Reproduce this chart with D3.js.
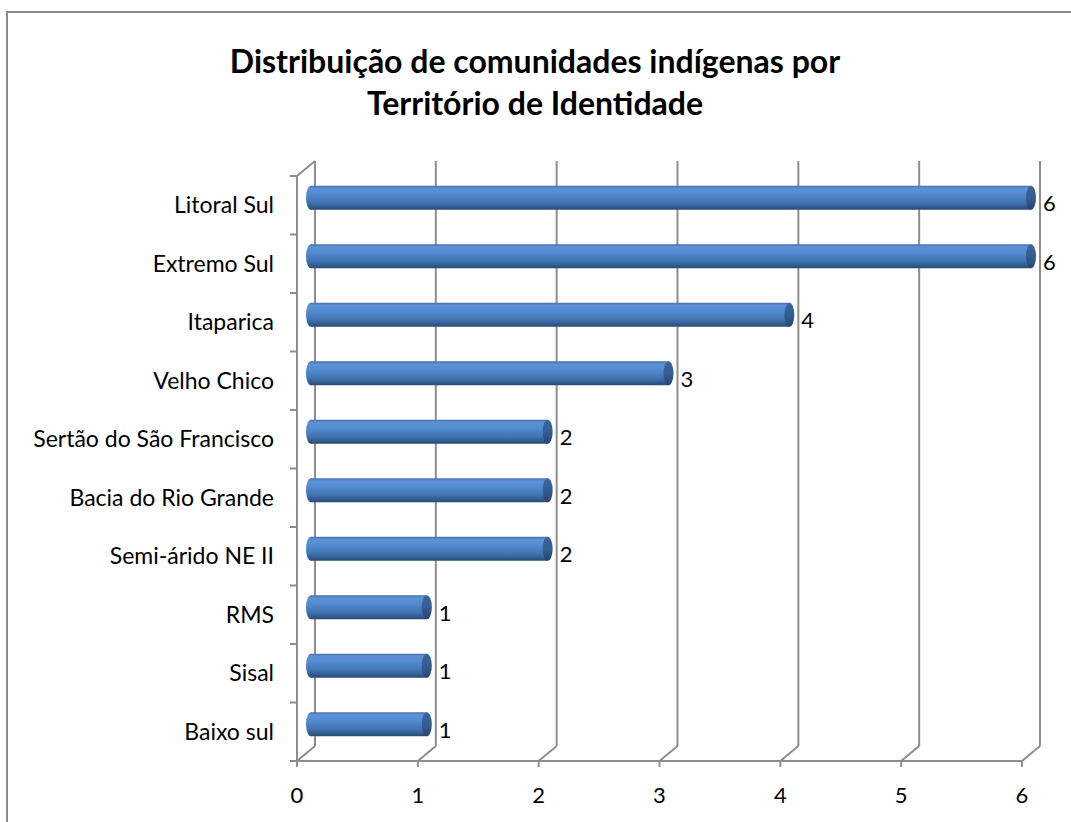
<!DOCTYPE html>
<html><head><meta charset="utf-8">
<script src="https://cdn.jsdelivr.net/npm/d3@7"></script>
<style>body{margin:0;background:#fff}svg{display:block}</style>
</head><body>
<svg id="c" width="1071" height="822"></svg>
<script>
const categories = ["Litoral Sul","Extremo Sul","Itaparica","Velho Chico","Sertão do São Francisco","Bacia do Rio Grande","Semi-árido NE II","RMS","Sisal","Baixo sul"];
const values = [6,6,4,3,2,2,2,1,1,1];
const xTicks = [0,1,2,3,4,5,6];
const titleLines = ["Distribuição de comunidades indígenas por","Território de Identidade"];

const svg = d3.select("#c");
const FONT = "Lato, 'Open Sans', sans-serif";
const x = d3.scaleLinear().domain([0,6]).range([297,1022]);
const y = d3.scaleBand().domain(categories).range([176,761]).padding(0);
const dx = 18, dy = -15;
const grid = "#8e8e8e";

// border
svg.append("rect").attr("x",7).attr("y",12).attr("width",1100).attr("height",900)
  .attr("fill","none").attr("stroke","#8a8a8a").attr("stroke-width",2);

// title
svg.append("g").selectAll("text").data(titleLines).join("text")
  .attr("x",535).attr("y",(d,i)=>73+i*42).attr("text-anchor","middle")
  .attr("font-family",FONT).attr("font-weight","bold").attr("font-size",32)
  .attr("fill","#000").text(d=>d);

const defs = svg.append("defs");
const g1 = defs.append("linearGradient").attr("id","body").attr("x1",0).attr("y1",0).attr("x2",0).attr("y2",1);
[[0,"#4472b0"],[0.12,"#5e92d6"],[0.35,"#538bcf"],[0.7,"#4174b2"],[0.9,"#30598c"],[1,"#284a75"]].forEach(s=>g1.append("stop").attr("offset",s[0]).attr("stop-color",s[1]));
const g2 = defs.append("linearGradient").attr("id","cap").attr("x1",0).attr("y1",0).attr("x2",0).attr("y2",1);
[[0,"#3c659c"],[0.5,"#345d92"],[1,"#27466f"]].forEach(s=>g2.append("stop").attr("offset",s[0]).attr("stop-color",s[1]));

// walls / gridlines
const gl = svg.append("g").attr("stroke",grid).attr("stroke-width",2).attr("fill","none");
gl.selectAll("line.v").data(xTicks).join("line").attr("class","v")
  .attr("x1",d=>x(d)+dx).attr("x2",d=>x(d)+dx).attr("y1",y.range()[0]+dy).attr("y2",y.range()[1]+dy);
gl.selectAll("line.d").data(xTicks).join("line").attr("class","d")
  .attr("x1",d=>x(d)).attr("x2",d=>x(d)+dx).attr("y1",y.range()[1]).attr("y2",y.range()[1]+dy);
gl.append("line").attr("x1",x(0)).attr("x2",x(0)).attr("y1",y.range()[0]).attr("y2",y.range()[1]);
gl.append("line").attr("x1",x(0)).attr("x2",x(0)+dx).attr("y1",y.range()[0]).attr("y2",y.range()[0]+dy);
gl.append("line").attr("x1",x(0)).attr("x2",x(6)).attr("y1",y.range()[1]).attr("y2",y.range()[1]);
const yTickPos = categories.map(c=>y(c)).concat([y.range()[1]]);
gl.selectAll("line.yt").data(yTickPos).join("line").attr("class","yt")
  .attr("x1",x(0)-7).attr("x2",x(0)).attr("y1",d=>d).attr("y2",d=>d);
gl.selectAll("line.xt").data(xTicks).join("line").attr("class","xt")
  .attr("x1",d=>x(d)).attr("x2",d=>x(d)).attr("y1",y.range()[1]).attr("y2",y.range()[1]+6);

// x tick labels
svg.append("g").selectAll("text").data(xTicks).join("text")
  .attr("x",d=>x(d)).attr("y",803).attr("text-anchor","middle")
  .attr("font-family",FONT).attr("font-size",22).attr("fill","#000").text(d=>d);

// category labels
svg.append("g").selectAll("text").data(categories).join("text")
  .attr("x",274).attr("y",d=>y(d)+y.bandwidth()/2+8).attr("text-anchor","end")
  .attr("font-family",FONT).attr("font-size",23).attr("fill","#000").text(d=>d);

// bars (cylinders)
const bh = 24, rx = 5;
const bars = svg.append("g").selectAll("g").data(categories.map((c,i)=>({c,v:values[i]}))).join("g")
  .attr("transform",d=>`translate(0,${y(d.c)+y.bandwidth()/2+dy/2-bh/2})`);
bars.append("ellipse").attr("cx",x(0)+dx/2+rx).attr("cy",bh/2).attr("rx",rx).attr("ry",bh/2).attr("fill","url(#body)");
bars.append("rect").attr("x",x(0)+dx/2+rx).attr("y",0).attr("width",d=>x(d.v)-x(0)-rx).attr("height",bh).attr("fill","url(#body)");
bars.append("ellipse").attr("cx",d=>x(d.v)+dx/2).attr("cy",bh/2).attr("rx",rx).attr("ry",bh/2).attr("fill","url(#cap)");

// value labels
svg.append("g").selectAll("text").data(categories.map((c,i)=>({c,v:values[i]}))).join("text")
  .attr("x",d=>x(d.v)+dx/2+rx+7).attr("y",d=>y(d.c)+y.bandwidth()/2+6)
  .attr("font-family",FONT).attr("font-size",22).attr("fill","#000").text(d=>d.v);
</script>
</body></html>
